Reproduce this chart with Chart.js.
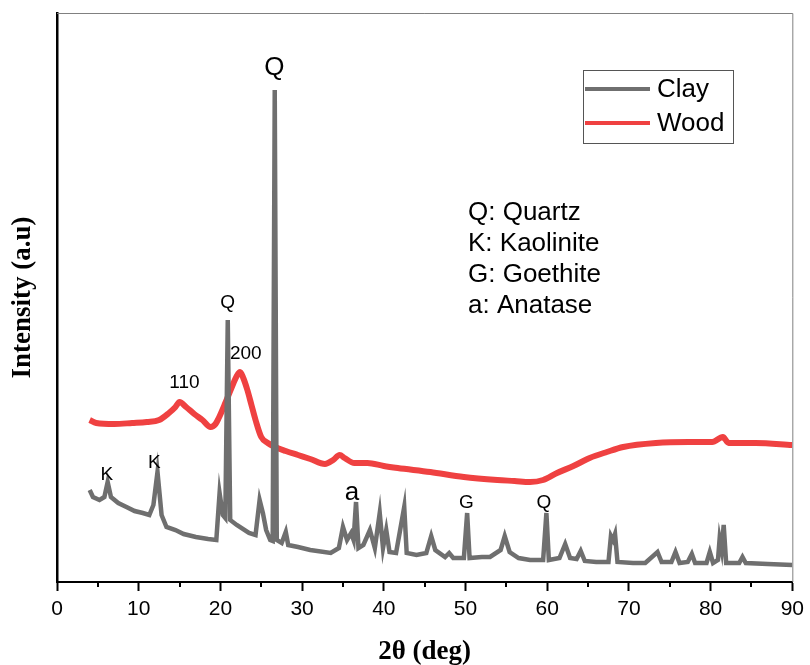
<!DOCTYPE html>
<html>
<head>
<meta charset="utf-8">
<script src="https://cdn.jsdelivr.net/npm/chart.js@4"></script>
<style>
  html, body { margin: 0; padding: 0; background: #fff; }
  #wrap { width: 810px; height: 665px; }
</style>
</head>
<body>
<div id="wrap"><canvas id="xrdChart" width="810" height="665"></canvas></div>
<script>
// 2theta (deg) and intensity (a.u.)
const clayTheta = [4.0, 4.4, 5.2, 5.8, 6.2, 6.6, 7.5, 8.5, 9.5, 10.5, 11.3, 11.8, 12.3, 12.8, 13.4, 14.5, 15.5, 17, 18.5, 19.5,
  19.9, 20.3, 20.6, 20.9, 21.2, 22, 23.5, 24.3, 24.8, 25.2, 25.6, 26.1, 26.4, 26.65, 26.9, 27.5, 28.0, 28.3, 29.5, 31,
  33.5, 34.5, 35.0, 35.5, 36.0, 36.3, 36.6, 36.9, 37.5, 38.3, 38.9, 39.5, 39.9, 40.3, 40.7, 41.5, 42.5, 42.8, 44, 45.2,
  45.8, 46.3, 47.5, 48.0, 48.5, 49.8, 50.2, 50.5, 52, 53, 54.3, 54.8, 55.4, 56.5, 57.9, 59.5, 59.9, 60.2, 61.5, 62.2,
  62.8, 63.6, 64.1, 64.6, 66, 67.5, 67.8, 68.05, 68.3, 68.6, 70.5, 72, 73.5, 74, 75.2, 75.7, 76.2, 77.2, 77.7, 78.1,
  79.5, 79.9, 80.3, 80.9, 81.1, 81.35, 81.6, 81.9, 83.5, 83.9, 84.3, 87, 90];
const clayIntensity = [92, 85, 82, 85, 100, 85, 79, 75, 71, 69, 67, 77, 110, 67, 55, 52, 48, 45, 43, 42,
  89, 67, 64, 262, 62, 57, 49, 47, 82, 69, 52, 42, 41, 492, 42, 39, 50, 37, 35, 32,
  29, 34, 55, 42, 49, 42, 80, 34, 37, 52, 34, 69, 34, 52, 30, 29, 75, 29, 27, 29,
  46, 32, 25, 29, 24, 24, 69, 24, 25, 25, 32, 46, 30, 24, 22, 22, 69, 22, 24, 38,
  24, 23, 31, 21, 20, 20, 46, 42, 48, 20, 19, 19, 30, 20, 20, 30, 19, 20, 28, 19,
  19, 30, 19, 22, 43, 32, 57, 19, 19, 25, 19, 18, 17];

const woodTheta = [4, 4.8, 7, 9.2, 11, 12.5, 13.7, 14.5, 15.0, 15.8, 16.8, 17.8, 18.8, 19.4, 19.8, 20.6, 21.4, 22.0, 22.4, 22.8,
  23.3, 23.8, 24.3, 25.0, 25.8, 26.7, 28, 29.5, 31, 32.8, 33.8, 34.6, 35.2, 36.4, 38, 40, 41.7, 45.7, 49.8, 53.9,
  56, 57.9, 59.5, 61.2, 63.2, 65.2, 67.3, 69.3, 73.3, 77.3, 80.2, 81.5, 82.2, 85.5, 90];
const woodIntensity = [162, 159, 158, 159, 160, 162, 169, 175, 180, 175, 168, 162, 155, 158, 164, 179, 195, 206, 210, 204,
  192, 177, 162, 145, 139, 135, 131, 127, 123, 118, 122, 127, 124, 119, 119, 116, 114, 110, 105, 102,
  101, 100, 102, 109, 116, 124, 130, 135, 139, 140, 140, 145, 139, 139, 137];

// peak labels: [text, theta, intensity, size]
const peakLabels = [
  ['Q', 26.6, 514, 26], ['Q', 20.9, 279, 19], ['200', 23.1, 228, 19], ['110', 15.6, 199, 19],
  ['K', 6.1, 107, 19], ['K', 11.9, 119, 19], ['a', 36.1, 89, 26], ['G', 50.1, 79, 19], ['Q', 59.6, 79, 19]
];
const phaseKey = ['Q: Quartz', 'K: Kaolinite', 'G: Goethite', 'a: Anatase'];

const clayColor = '#6f6f6f';
const woodColor = '#ef4141';

const toPoints = (xs, ys) => xs.map((x, i) => ({ x: x, y: ys[i] }));

const extras = {
  id: 'extras',
  afterDatasetsDraw(chart) {
    const { ctx, chartArea: a, scales: { x, y } } = chart;
    ctx.save();
    // frame top / right
    ctx.strokeStyle = '#808080';
    ctx.lineWidth = 1;
    ctx.beginPath();
    ctx.moveTo(a.left, a.top + 0.5);
    ctx.lineTo(a.right + 0.5, a.top + 0.5);
    ctx.lineTo(a.right + 0.5, a.bottom);
    ctx.stroke();

    // minor ticks
    ctx.strokeStyle = '#000';
    ctx.lineWidth = 2;
    for (let v = 5; v < 90; v += 10) {
      const px = Math.round(x.getPixelForValue(v));
      ctx.beginPath();
      ctx.moveTo(px, a.bottom);
      ctx.lineTo(px, a.bottom + 5);
      ctx.stroke();
    }

    // peak labels
    ctx.fillStyle = '#000';
    ctx.textAlign = 'center';
    ctx.textBaseline = 'middle';
    for (const [t, tx, ty, sz] of peakLabels) {
      ctx.font = sz + 'px "Liberation Sans", Arial, sans-serif';
      ctx.fillText(t, x.getPixelForValue(tx), y.getPixelForValue(ty));
    }

    // phase key
    ctx.textAlign = 'left';
    ctx.font = '26px "Liberation Sans", Arial, sans-serif';
    phaseKey.forEach((t, i) => ctx.fillText(t, 468, 213 + i * 31));

    // legend box
    ctx.strokeStyle = '#555';
    ctx.lineWidth = 1;
    ctx.strokeRect(583.5, 70.5, 150, 73);
    chart.data.datasets.forEach((ds, i) => {
      const ly = 89 + i * 34;
      ctx.strokeStyle = ds.borderColor;
      ctx.lineWidth = 4;
      ctx.beginPath();
      ctx.moveTo(585, ly);
      ctx.lineTo(650, ly);
      ctx.stroke();
      ctx.fillStyle = '#000';
      ctx.fillText(ds.label, 657, ly + 1);
    });
    ctx.restore();
  }
};

new Chart(document.getElementById('xrdChart'), {
  type: 'line',
  data: {
    datasets: [{
      label: 'Clay',
      data: toPoints(clayTheta, clayIntensity),
      borderColor: clayColor,
      borderWidth: 4.5,
      pointRadius: 0,
      tension: 0
    }, {
      label: 'Wood',
      data: toPoints(woodTheta, woodIntensity),
      borderColor: woodColor,
      borderWidth: 6,
      pointRadius: 0,
      cubicInterpolationMode: 'monotone'
    }]
  },
  options: {
    responsive: false,
    animation: false,
    layout: { padding: { top: 13, right: 13, left: 0, bottom: 0 } },
    plugins: { legend: { display: false }, tooltip: { enabled: false } },
    scales: {
      x: {
        type: 'linear',
        min: 0,
        max: 90,
        afterFit: (s) => { s.height = 83; },
        ticks: {
          stepSize: 10,
          color: '#000',
          padding: 6,
          font: { family: '"Liberation Sans", Arial, sans-serif', size: 21 }
        },
        grid: { drawOnChartArea: false, drawTicks: true, tickLength: 9, tickWidth: 2, tickColor: '#000' },
        border: { color: '#000', width: 2 },
        title: {
          display: true,
          text: '2θ (deg)',
          color: '#000',
          padding: 0,
          font: { family: '"Liberation Serif", "Times New Roman", serif', size: 27, weight: 'bold', lineHeight: 0.95 }
        }
      },
      y: {
        min: 0,
        max: 569,
        afterFit: (s) => { s.width = 57; },
        ticks: { display: false },
        grid: { drawOnChartArea: false, drawTicks: false },
        border: { color: '#000', width: 2.5 },
        title: {
          display: true,
          text: 'Intensity (a.u)',
          color: '#000',
          padding: { top: 10, bottom: 0 },
          font: { family: '"Liberation Serif", "Times New Roman", serif', size: 27, weight: 'bold', lineHeight: 1 }
        }
      }
    }
  },
  plugins: [extras]
});
</script>
</body>
</html>
